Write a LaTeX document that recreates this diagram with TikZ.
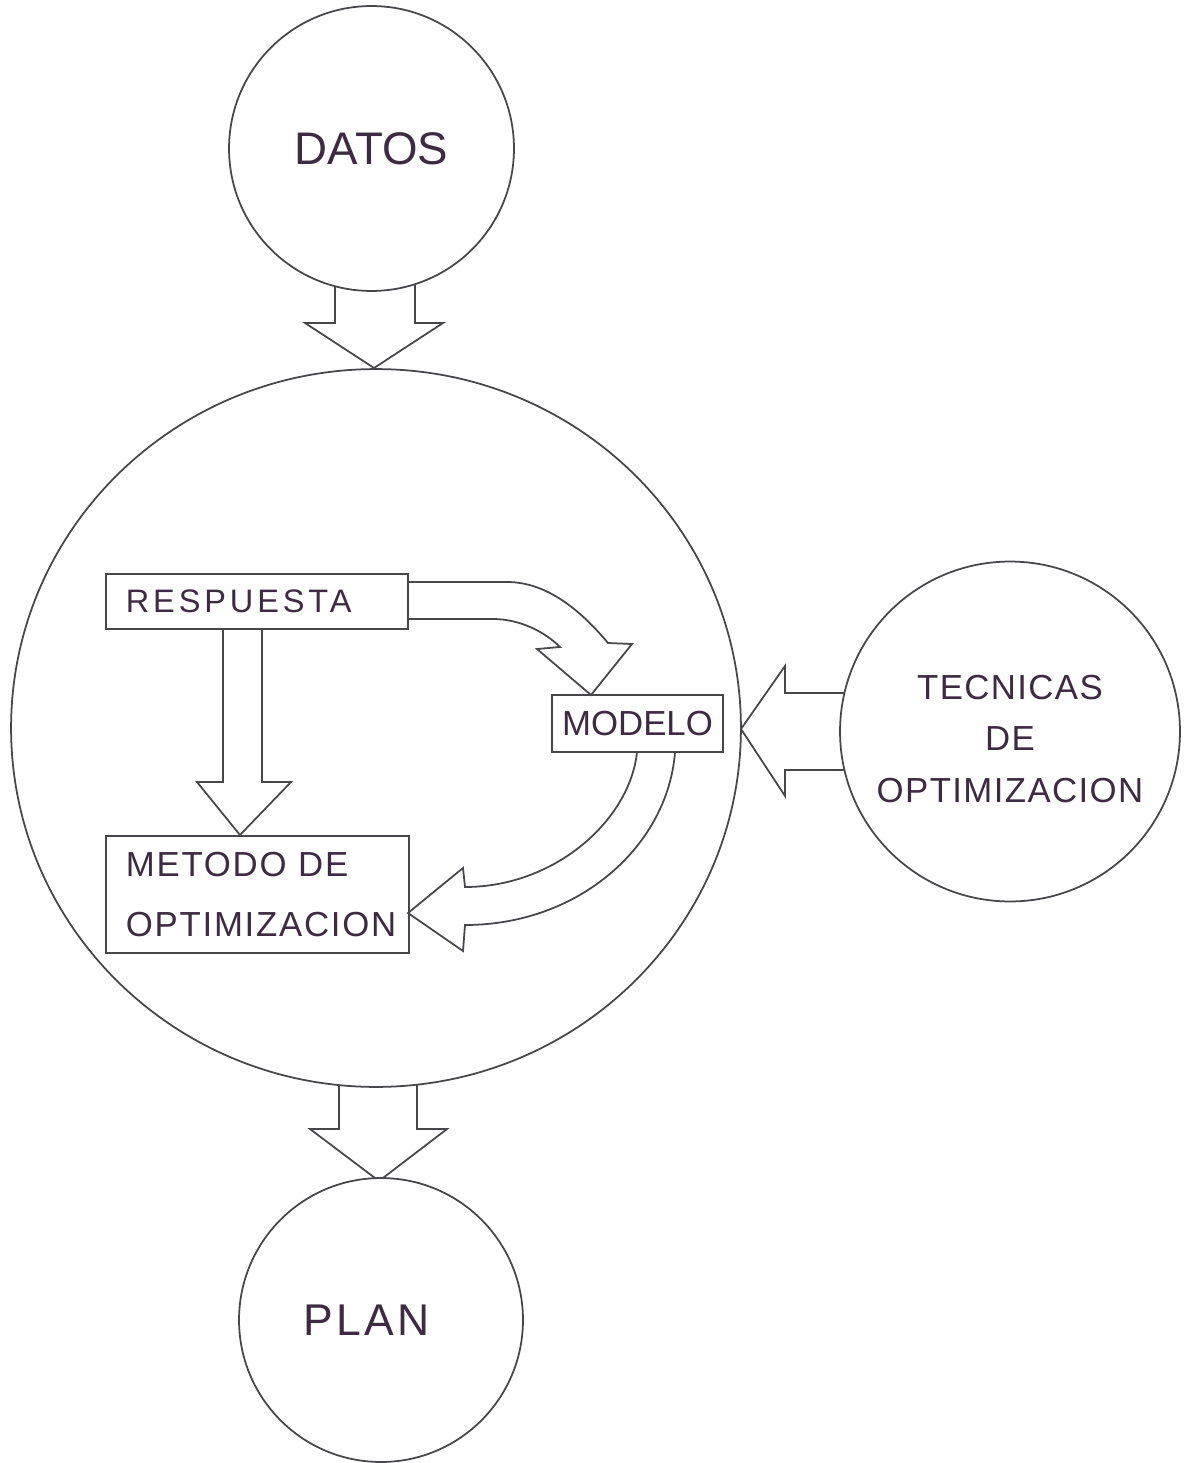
\documentclass[tikz,border=0pt]{standalone}
\usepackage{fontspec}
\setmainfont{Liberation Sans}
\newfontfamily\lsBig{Liberation Sans}
\newfontfamily\lsPlan[LetterSpace=7.5]{Liberation Sans}
\newfontfamily\lsResp[LetterSpace=12]{Liberation Sans}
\newfontfamily\lsMid[LetterSpace=5]{Liberation Sans}
\newfontfamily\lsTec[LetterSpace=4]{Liberation Sans}
\usetikzlibrary{shapes.geometric}
\definecolor{ink}{RGB}{72,70,74}
\definecolor{txt}{RGB}{62,42,66}
\begin{document}
\begin{tikzpicture}[x=0.02cm,y=-0.02cm,line width=1pt,color=ink,
  circ/.style={circle,draw=ink,fill=white,inner sep=0pt,text=txt},
  bigov/.style={ellipse,draw=ink,inner sep=0pt},
  boxn/.style={rectangle,draw=ink,fill=white,inner sep=0pt,text=txt},
  barrow/.style={draw=ink,line join=miter}]
\useasboundingbox (0,0) rectangle (1185,1463);
\fill[white] (0,0) rectangle (1185,1463);

% system circle
\node[bigov,minimum width=14.6cm,minimum height=14.36cm] (sys) at (376,728) {};

% block arrows between circles
\draw[barrow] (335,250) -- (335,323) -- (305,323) -- (374,368) -- (443,323) -- (415,323) -- (415,250);
\draw[barrow] (900,693) -- (785,693) -- (785,666) -- (741,729) -- (785,796) -- (785,770) -- (900,770);
\draw[barrow] (339,1085.2) -- (339,1129) -- (310,1129) -- (379,1181) -- (447,1129) -- (417,1129) -- (417,1084.7);

% outer circles
\node[circ,minimum size=5.7cm,font={\lsBig\fontsize{26pt}{30pt}\selectfont}] (datos) at (371.5,148.5) {DATOS};
\node[circ,minimum size=6.8cm] (tec) at (1010,731.5) {};
\node[text=txt,align=center,inner sep=0pt,font={\lsTec\fontsize{19.8pt}{29.5pt}\selectfont}] (teclbl) at ([yshift=-0.15cm]tec.center) {TECNICAS\\DE\\OPTIMIZACION};
\node[circ,minimum size=5.68cm,font={\lsPlan\fontsize{25.3pt}{30pt}\selectfont}] (plan) at (381,1320) {PLAN\hspace*{0.58cm}};

% inner boxes
\node[boxn,anchor=north west,minimum width=6.04cm,minimum height=1.1cm,text width=5.24cm,align=left,inner xsep=0.4cm,font={\lsResp\fontsize{18.5pt}{22pt}\selectfont}] (resp) at (105,573) {RESPUESTA};
\node[boxn,minimum width=3.42cm,minimum height=1.14cm,font={\lsBig\fontsize{19.8pt}{24pt}\selectfont}] (mod) at (637.5,723.5) {MODELO};
\node[boxn,anchor=north west,minimum width=6.06cm,minimum height=2.34cm,text width=5.26cm,align=left,inner xsep=0.4cm,font={\lsMid\fontsize{19.8pt}{34pt}\selectfont}] (met) at (105,835) {METODO DE\\OPTIMIZACION};

% inner arrows
\draw[barrow] (223,628) -- (223,782) -- (197,782) -- (240,835) -- (291,782) -- (262,782) -- (262,628);
\draw[barrow] (407,582) -- (507,582) .. controls (548,582) and (582,612) .. (608,643) -- (632,644) -- (591,695) -- (537,649) -- (560,647) .. controls (545,632) and (520,619) .. (493,619) -- (407,619);
\draw[barrow] (637,752) .. controls (630,820) and (555,887) .. (465,887) -- (463,868) -- (408,913) -- (463,951) -- (465,925) .. controls (580,925) and (668,845) .. (675,752);
\end{tikzpicture}
\end{document}
